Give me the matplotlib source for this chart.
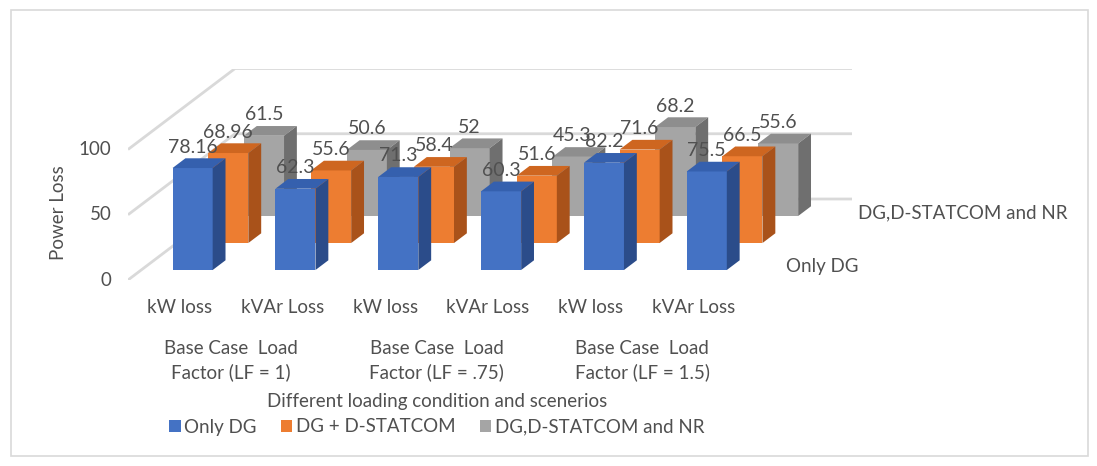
import matplotlib
matplotlib.use("Agg")
import matplotlib.pyplot as plt
from matplotlib.patches import Polygon, Patch, Rectangle

plt.rcParams['font.family'] = ['Lato', 'DejaVu Sans']

# data
categories = ['kW loss', 'kVAr Loss', 'kW loss', 'kVAr Loss', 'kW loss', 'kVAr Loss']
groups = ['Base Case  Load\nFactor (LF = 1)',
          'Base Case  Load\nFactor (LF = .75)',
          'Base Case  Load\nFactor (LF = 1.5)']
series_names = ['Only DG', 'DG + D-STATCOM', 'DG,D-STATCOM and NR']
only_dg = [78.16, 62.3, 71.3, 60.3, 82.2, 75.5]
dg_dstatcom = [68.96, 55.6, 58.4, 51.6, 71.6, 66.5]
dg_dstatcom_nr = [61.5, 50.6, 52, 45.3, 68.2, 55.6]
series_values = [only_dg, dg_dstatcom, dg_dstatcom_nr]
yticks = [0, 50, 100]

# look
front_cols = ['#4472C4', '#ED7D31', '#A5A5A5']
top_cols = ['#3560AE', '#CE6620', '#8E8E8E']
side_cols = ['#2B4C8A', '#A9521A', '#6F6F6F']
txt = '#505050'
grid = '#D9D9D9'
fs = 13.5

# oblique depth: offset per series slot in (category, value) units
DX = 0.347
DY = 20.69
W = 0.39
F0 = 0.37
BD = 0.36
nser = len(series_values)

fig = plt.figure(figsize=(10.97, 4.66), dpi=100)
fig.patches.append(Rectangle((11 / 1097, 1 - 456 / 466), 1077 / 1097, 446 / 466,
                             transform=fig.transFigure, fill=False,
                             edgecolor=grid, lw=1.2))

ax = fig.add_axes([128 / 1097, 1 - 280 / 466, 724 / 1097, 211.5 / 466])
ax.set_xlim(-0.5, len(categories) - 0.5 + nser * DX)
ax.set_ylim(0, yticks[-1] + nser * DY)
ax.axis('off')

# walls: diagonal lines on side wall, horizontal on back wall
x_front = -0.5
x_back = x_front + nser * DX
x_end = len(categories) - 0.5 + nser * DX
for v in yticks:
    ax.plot([x_front, x_back, x_end], [v, v + nser * DY, v + nser * DY],
            color=grid, lw=2, zorder=1, solid_capstyle='butt')
    ax.annotate(str(v), (x_front, v), xytext=(-12, 0), textcoords='offset points',
                ha='right', va='center', fontsize=fs, color=txt)

# bars, back series first
for k in reversed(range(nser)):
    d1 = k + F0
    d2 = d1 + BD
    vals = series_values[k]
    xs = [i + d1 * DX for i in range(len(vals))]
    ax.bar(xs, vals, width=W, bottom=d1 * DY, color=front_cols[k],
           zorder=2 + (nser - k) * 3)
    for i, v in enumerate(vals):
        xl1, xr1 = i - W / 2 + d1 * DX, i + W / 2 + d1 * DX
        xl2, xr2 = i - W / 2 + d2 * DX, i + W / 2 + d2 * DX
        y1, y2 = d1 * DY, d2 * DY
        ax.add_patch(Polygon([(xl1, v + y1), (xr1, v + y1), (xr2, v + y2), (xl2, v + y2)],
                             closed=True, facecolor=top_cols[k], edgecolor='none',
                             zorder=2 + (nser - k) * 3))
        ax.add_patch(Polygon([(xr1, y1), (xr1, v + y1), (xr2, v + y2), (xr2, y2)],
                             closed=True, facecolor=side_cols[k], edgecolor='none',
                             zorder=2 + (nser - k) * 3))
        ax.annotate(f'{v:g}', (i + d1 * DX, v + y2), xytext=(0, 2),
                    textcoords='offset points', ha='center', va='bottom',
                    fontsize=14, color=txt, zorder=30)

# series names on the depth axis (middle one hidden as in the original)
for k in [0, nser - 1]:
    ax.annotate(series_names[k], (len(categories) - 0.5 + (k + 0.5) * DX, (k + 0.5) * DY),
                xytext=(17, 0), textcoords='offset points', ha='left', va='center',
                fontsize=fs, color=txt, annotation_clip=False)

# category and group labels
for i, c in enumerate(categories):
    ax.annotate(c, (i, 0), xytext=(0, -19.5), textcoords='offset points',
                ha='center', va='center', fontsize=fs, color=txt, annotation_clip=False)
for g, lbl in enumerate(groups):
    ax.annotate(lbl, (2 * g + 0.5, 0), xytext=(0, -58), textcoords='offset points',
                ha='center', va='center', fontsize=fs, color=txt, linespacing=1.4,
                multialignment='center', annotation_clip=False)

fig.text(437 / 1097, 1 - 402 / 466, 'Different loading condition and scenerios',
         ha='center', va='center', fontsize=fs, color=txt)
fig.text(58 / 1097, 1 - 213 / 466, 'Power Loss', rotation=90,
         ha='center', va='center', fontsize=fs, color=txt)

handles = [Patch(facecolor=front_cols[k], label=series_names[k]) for k in range(nser)]
fig.legend(handles=handles, loc='center', bbox_to_anchor=(437 / 1097, 1 - 427 / 466),
           ncol=3, frameon=False, fontsize=fs, handlelength=0.6, handleheight=0.6,
           handletextpad=0.2, columnspacing=1.3, labelcolor=txt)

fig.savefig('out.png', dpi=100)
